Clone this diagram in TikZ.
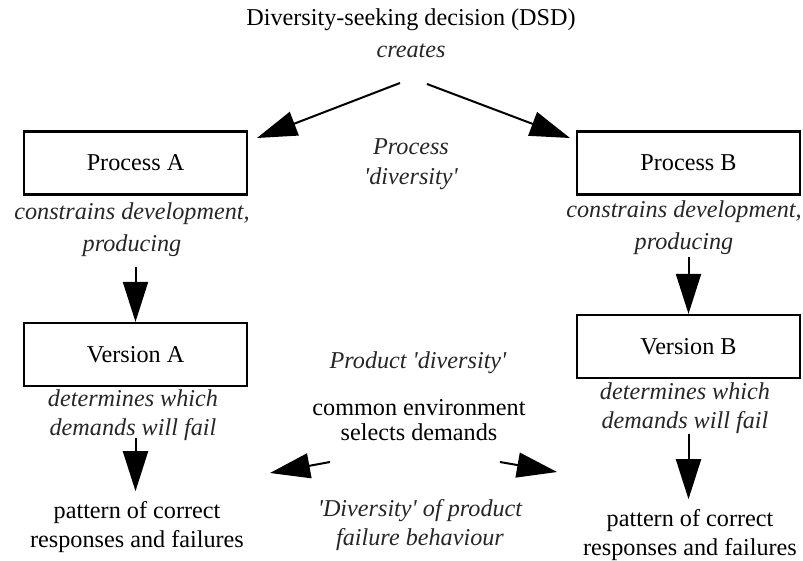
\documentclass[tikz,border=0pt]{standalone}
\usepackage{fontspec}
\setmainfont{Liberation Serif}
\usetikzlibrary{arrows.meta}
\newcommand{\fsz}{\fontsize{24.2}{29}\selectfont}
\newcommand{\sq}{\textquotesingle}

\begin{document}
\begin{tikzpicture}[x=1pt, y=-1pt,
    box/.style={draw=black, line width=2.2pt, minimum width=223pt, minimum height=63pt, inner sep=0pt, font=\fsz},
    txt/.style={align=center, inner sep=0pt, font=\fsz},
    lbl/.style={txt, text=black!85, font=\fsz\itshape},
    arr/.style={-{Triangle[length=40pt,width=25pt]}, line width=2pt},
  ]
  \useasboundingbox (0,0) rectangle (803,560);

  % decision and the two processes
  \node[txt] (dsd) at (411,20) {Diversity-seeking decision (DSD)};
  \node[lbl] (creates) at (411,51) {creates};
  \node[box] (procA) at (135.5,163) {Process A};
  \node[box] (procB) at (688.5,163) {Process B};
  \node[lbl, font=\fontsize{24.2}{30}\selectfont\itshape] (procdiv) at (411,164) {Process\\\sq diversity\sq};

  \coordinate (fromA) at (400,83);
  \coordinate (fromB) at (427,84);
  \coordinate (toA) at (257,138);
  \coordinate (toB) at (570,138);
  \draw[arr] (fromA) -- (toA);
  \draw[arr] (fromB) -- (toB);

  % processes constrain the versions
  \node[lbl, font=\fontsize{24.2}{32}\selectfont\itshape] (prodA) at (132,230) {constrains development,\\producing};
  \node[lbl, font=\fontsize{24.2}{32}\selectfont\itshape] (prodB) at (684,228) {constrains development,\\producing};
  \node[box] (verA) at (135.5,354.5) {Version A};
  \node[box] (verB) at (688.5,346.5) {Version B};
  \draw[arr, shorten <=10pt] (prodA.south -| verA.north) -- (verA.north);
  \draw[arr, shorten <=2pt] (prodB.south -| verB.north) -- (verB.north);

  % versions meet the demands
  \node[lbl] (detA) at (133,415) {determines which\\demands will fail};
  \node[lbl] (detB) at (685,408) {determines which\\demands will fail};
  \node[txt] (patA) at (137,527) {pattern of correct\\responses and failures};
  \node[txt] (patB) at (690,535) {pattern of correct\\responses and failures};
  \draw[arr, shorten <=-3pt, shorten >=10pt] (detA.south -| verA.south) -- (patA.north -| verA.south);
  \draw[arr, shorten <=0pt, shorten >=10pt] (detB.south -| verB.south) -- (patB.north -| verB.south);

  % product diversity in the middle
  \node[lbl] (proddiv) at (418,363) {Product \sq diversity\sq};
  \node[txt, font=\fontsize{24.2}{25}\selectfont] (env) at (419,420) {common environment\\selects demands};
  \node[lbl] (faildiv) at (420,525) {\sq Diversity\sq{} of product\\failure behaviour};

  \coordinate (envL) at (330,462);
  \coordinate (envR) at (500,462);
  \coordinate (toPatA) at (270,473);
  \coordinate (toPatB) at (557,472);
  \draw[arr] (envL) -- (toPatA);
  \draw[arr] (envR) -- (toPatB);
\end{tikzpicture}
\end{document}
